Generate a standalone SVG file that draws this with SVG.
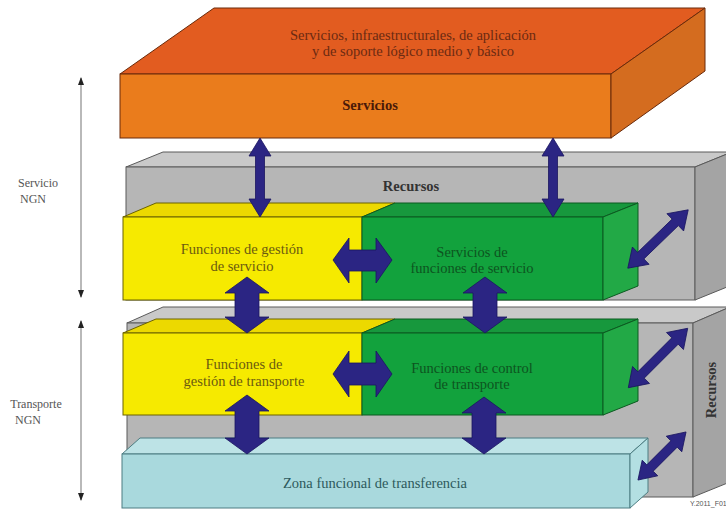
<svg xmlns="http://www.w3.org/2000/svg" xmlns:xlink="http://www.w3.org/1999/xlink" width="726" height="509" viewBox="0 0 726 509">
<defs>
<style>
.t{font-family:'Liberation Serif','DejaVu Serif',serif;font-size:14.5px;text-anchor:middle}
.s{font-size:12px}
.b{font-weight:bold}
.arw{fill:#2b2583;stroke:#1a1560;stroke-width:0.8}
.ax{stroke:#8a8a8a;stroke-width:1.2;fill:none}
.og{stroke:#6a2a0a;stroke-width:1}
.gr{stroke:#5a5a5a;stroke-width:1}
.ye{stroke:#6b6200;stroke-width:1}
.gn{stroke:#0b5a20;stroke-width:1}
.lb{stroke:#4d7d82;stroke-width:1}
</style>
<marker id="ah" viewBox="0 0 8 6" refX="7" refY="3" markerWidth="8" markerHeight="6" markerUnits="userSpaceOnUse" orient="auto-start-reverse">
<path d="M0,0 L8,3 L0,6 z" fill="#222"/>
</marker>
<path id="diagL" d="M-42,0 L-24,-12 L-24,-4.5 L24,-4.5 L24,-12 L42,0 L24,12 L24,4.5 L-24,4.5 L-24,12 Z"/>
<path id="diagS" d="M-34,0 L-17,-11 L-17,-4.5 L17,-4.5 L17,-11 L34,0 L17,11 L17,4.5 L-17,4.5 L-17,11 Z"/>
</defs>
<rect width="726" height="509" fill="#ffffff"/>

<g id="eje-servicio">
<line class="ax" x1="81" y1="78" x2="81" y2="297" marker-start="url(#ah)" marker-end="url(#ah)"/>
<text class="t s" x="38" y="187" fill="#555">Servicio</text>
<text class="t s" x="33" y="203" fill="#555">NGN</text>
</g>
<g id="eje-transporte">
<line class="ax" x1="81" y1="321" x2="81" y2="500" marker-start="url(#ah)" marker-end="url(#ah)"/>
<text class="t s" x="36" y="408" fill="#555">Transporte</text>
<text class="t s" x="28" y="424" fill="#555">NGN</text>
</g>

<g id="servicios">
<polygon class="og" points="120,74 214,8 705,8 611,74" fill="#e25c20"/>
<rect class="og" x="120" y="74" width="491" height="64" fill="#ea7c1c"/>
<polygon class="og" points="611,74 705,8 705,71 611,138" fill="#d46c1f"/>
<text class="t" x="413" y="40" fill="#6b2a12">Servicios, infraestructurales, de aplicación</text>
<text class="t" x="413" y="56" fill="#6b2a12">y de soporte lógico medio y básico</text>
<text class="t b" x="370" y="110" fill="#4a1a08">Servicios</text>
</g>

<g id="recursos-servicio">
<polygon class="gr" points="126,167 163,152 732,152 695,167" fill="#c9c9c9"/>
<rect class="gr" x="126" y="167" width="569" height="133" fill="#b6b6b6"/>
<polygon class="gr" points="695,167 732,152 732,285 695,300" fill="#a4a4a4"/>
<text class="t b" x="411" y="191" fill="#333">Recursos</text>
</g>

<g id="gestion-servicio">
<polygon class="ye" points="123,217 156,203 395,203 362,217" fill="#ecd900"/>
<rect class="ye" x="123" y="217" width="239" height="83" fill="#f6ea00"/>
<text class="t" x="242" y="254" fill="#6b5a10">Funciones de gestión</text>
<text class="t" x="242" y="271" fill="#6b5a10">de servicio</text>
</g>

<g id="funciones-servicio">
<polygon class="gn" points="362,217 395,203 638,203 603,217" fill="#17983d"/>
<rect class="gn" x="362" y="217" width="241" height="83" fill="#12a23d"/>
<polygon class="gn" points="603,217 638,203 638,286 603,300" fill="#22a946"/>
<text class="t" x="472" y="257" fill="#0d5420">Servicios de</text>
<text class="t" x="472" y="273" fill="#0d5420">funciones de servicio</text>
</g>

<g id="recursos-transporte">
<polygon class="gr" points="127,323 163,307 730,307 693,323" fill="#c9c9c9"/>
<rect class="gr" x="127" y="323" width="566" height="174" fill="#b6b6b6"/>
<polygon class="gr" points="693,323 730,307 730,482 693,497" fill="#a4a4a4"/>
<text class="t b" transform="translate(716,390) rotate(-90)" fill="#333">Recursos</text>
</g>

<g id="gestion-transporte">
<polygon class="ye" points="123,333 156,319 395,319 362,333" fill="#ecd900"/>
<rect class="ye" x="123" y="333" width="239" height="82" fill="#f6ea00"/>
<text class="t" x="244" y="369" fill="#6b5a10">Funciones de</text>
<text class="t" x="244" y="386" fill="#6b5a10">gestión de transporte</text>
</g>

<g id="control-transporte">
<polygon class="gn" points="362,333 395,319 638,319 603,333" fill="#17983d"/>
<rect class="gn" x="362" y="333" width="241" height="82" fill="#12a23d"/>
<polygon class="gn" points="603,333 638,319 638,401 603,415" fill="#22a946"/>
<text class="t" x="472" y="373" fill="#0d5420">Funciones de control</text>
<text class="t" x="472" y="389" fill="#0d5420">de transporte</text>
</g>

<g id="transferencia">
<polygon class="lb" points="122,454 140,438 648,438 630,454" fill="#bde3e6"/>
<rect class="lb" x="122" y="454" width="508" height="54" fill="#a9d9dd"/>
<polygon class="lb" points="630,454 648,438 648,492 630,508" fill="#b3dfe2"/>
<text class="t" x="375" y="488" fill="#2d5a5c">Zona funcional de transferencia</text>
</g>

<g id="conectores">
<polygon class="arw" points="260,138 271,156 264.5,156 264.5,199 271,199 260,217 249,199 255.5,199 255.5,156 249,156"/>
<polygon class="arw" points="553,138 564,156 557.5,156 557.5,199 564,199 553,217 542,199 548.5,199 548.5,156 542,156"/>
<polygon class="arw" points="333,260 349,238 349,250 376,250 376,238 392,260 376,283 376,271 349,271 349,283"/>
<polygon class="arw" points="333,374 349,351 349,363 376,363 376,351 392,374 376,397 376,385 349,385 349,397"/>
<polygon class="arw" points="247,277 269,293 259,293 259,317 269,317 247,333 225,317 235,317 235,293 225,293"/>
<polygon class="arw" points="485,277 507,293 497,293 497,317 507,317 485,333 463,317 473,317 473,293 463,293"/>
<polygon class="arw" points="247,395 269,411 259,411 259,438 269,438 247,454 225,438 235,438 235,411 225,411"/>
<polygon class="arw" points="484,397 506,413 496,413 496,438 506,438 484,454 462,438 472,438 472,413 462,413"/>
<use xlink:href="#diagL" class="arw" transform="translate(658,239) rotate(-44)"/>
<use xlink:href="#diagL" class="arw" transform="translate(658,358) rotate(-45)"/>
<use xlink:href="#diagS" class="arw" transform="translate(662,456) rotate(-45)"/>
</g>

<text x="690" y="506" font-family="Liberation Sans, Arial, sans-serif" font-size="7" fill="#555">Y.2011_F01</text>
</svg>
